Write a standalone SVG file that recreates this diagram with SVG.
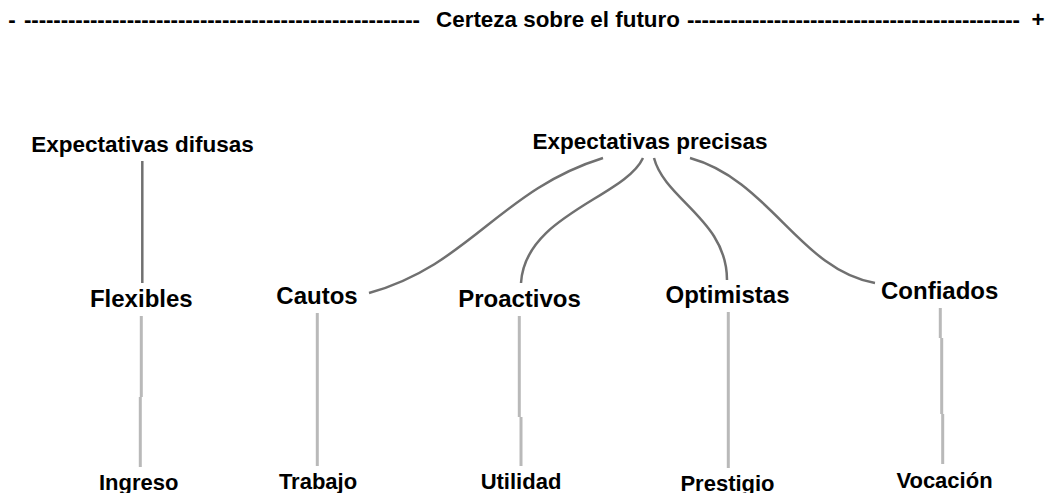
<svg xmlns="http://www.w3.org/2000/svg" width="1053" height="493" viewBox="0 0 1053 493">
  <style>
    text { font-family: "Liberation Sans", Arial, sans-serif; font-weight: bold; fill: #000; text-anchor: middle; }
    .title { font-size: 22.4px; }
    .top { font-size: 22.5px; }
    .mid { font-size: 24px; }
    .low { font-size: 22px; }
    .dark { fill: none; stroke: #707070; stroke-width: 2.5; }
    .light { fill: none; stroke: #b9b9b9; stroke-width: 3; }
  </style>
  <rect width="1053" height="493" fill="#fff"/>

  <g id="title">
    <text class="title" x="12" y="27">-</text>
    <text class="title" x="222" y="27" textLength="396" lengthAdjust="spacing">------------------------------------------------------</text>
    <text class="title" x="558" y="27">Certeza sobre el futuro</text>
    <text class="title" x="853.5" y="27" textLength="333" lengthAdjust="spacing">----------------------------------------------</text>
    <text class="title" x="1038" y="27">+</text>
  </g>

  <g id="connectors">
    <line class="dark" x1="142.3" y1="161" x2="142.3" y2="283"/>
    <path class="dark" d="M603,158 C500,190 470,265 369,293"/>
    <path class="dark" d="M643,158 C625,197 525,215 521,283"/>
    <path class="dark" d="M654,158 C665,200 727,220 727,280"/>
    <path class="dark" d="M690,158 C770,180 800,270 875,283"/>
    <path class="light" d="M141.3,316 L141.3,397 M140.3,397 L140.3,467"/>
    <line class="light" x1="317.3" y1="313" x2="317.3" y2="466"/>
    <path class="light" d="M519.3,316 L519.3,417 M521,417 L521,466"/>
    <line class="light" x1="728.3" y1="312" x2="728.3" y2="468"/>
    <path class="light" d="M940.3,308 L940.3,338 M941.7,338 L941.7,414 M942.7,414 L942.7,464"/>
  </g>

  <g id="node-difusas"><text class="top" x="142.5" y="152.3">Expectativas difusas</text></g>
  <g id="node-precisas"><text class="top" x="650" y="149.3">Expectativas precisas</text></g>

  <g id="node-flexibles"><text class="mid" x="141.3" y="306.7">Flexibles</text></g>
  <g id="node-cautos"><text class="mid" x="317" y="304">Cautos</text></g>
  <g id="node-proactivos"><text class="mid" x="519.5" y="307">Proactivos</text></g>
  <g id="node-optimistas"><text class="mid" x="727.5" y="303">Optimistas</text></g>
  <g id="node-confiados"><text class="mid" x="939.7" y="299">Confiados</text></g>

  <g id="node-ingreso"><text class="low" x="138.7" y="490">Ingreso</text></g>
  <g id="node-trabajo"><text class="low" x="318" y="488.5">Trabajo</text></g>
  <g id="node-utilidad"><text class="low" x="521" y="488.5">Utilidad</text></g>
  <g id="node-prestigio"><text class="low" x="727.5" y="490.5">Prestigio</text></g>
  <g id="node-vocacion"><text class="low" x="944.5" y="487.5">Vocación</text></g>
</svg>
